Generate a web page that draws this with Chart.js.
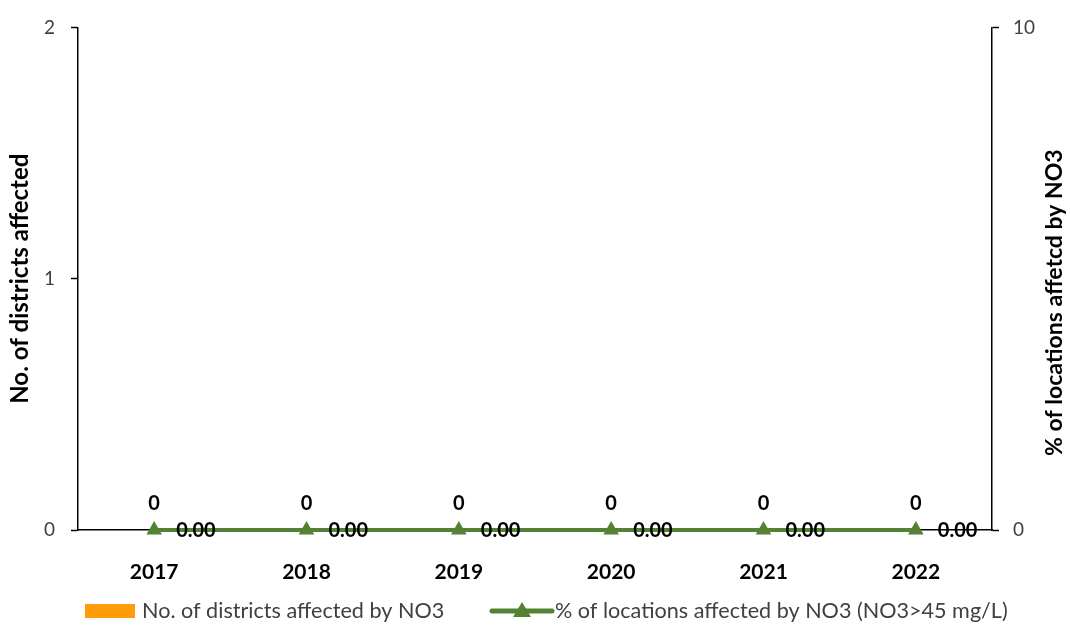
<!DOCTYPE html>
<html>
<head>
<meta charset="utf-8">
<script src="https://cdn.jsdelivr.net/npm/chart.js@4.4.1/dist/chart.umd.min.js"></script>
<style>
  html, body { margin: 0; padding: 0; background: #ffffff; }
  #wrap { width: 1070px; height: 630px; position: relative; }
</style>
</head>
<body>
<div id="wrap"><canvas id="c" width="1070" height="630"></canvas></div>
<script>
// Nitrate (NO3) contamination summary by year
const years = ['2017', '2018', '2019', '2020', '2021', '2022'];
const districtsAffected = [0, 0, 0, 0, 0, 0];
const pctLocationsAffected = [0, 0, 0, 0, 0, 0];
const leftTicks = [0, 1, 2];
const rightTicks = [0, 10];

const districtLabel = 'No. of districts affected by NO3';
const pctLabel = '% of locations affected by NO3 (NO3>45 mg/L)';
const leftTitle = 'No. of districts affected';
const rightTitle = '% of locations affetcd by NO3';

const ORANGE = '#FF9C0A';
const GREEN = '#548235';
const FONT = 'Lato, "Open Sans", "Liberation Sans", sans-serif';

// Value labels: integer above each bar, two decimals to the right of each point
const valueLabels = {
  id: 'valueLabels',
  afterDatasetsDraw(chart) {
    const ctx = chart.ctx;
    ctx.save();
    ctx.fillStyle = '#000';
    ctx.font = 'bold 20px ' + FONT;
    ctx.textBaseline = 'middle';
    const barMeta = chart.getDatasetMeta(0);
    barMeta.data.forEach((el, i) => {
      ctx.textAlign = 'center';
      ctx.fillText(String(districtsAffected[i]), el.x, el.y - 26);
    });
    const lineMeta = chart.getDatasetMeta(1);
    lineMeta.data.forEach((el, i) => {
      ctx.textAlign = 'left';
      ctx.fillText(pctLocationsAffected[i].toFixed(2), el.x + 22, el.y + 1);
    });
    ctx.restore();
  }
};

// Both axis titles read bottom-to-top
const axisTitles = {
  id: 'axisTitles',
  afterDraw(chart) {
    const ctx = chart.ctx;
    const area = chart.chartArea;
    ctx.save();
    ctx.fillStyle = '#000';
    ctx.textAlign = 'center';
    ctx.textBaseline = 'middle';
    ctx.font = 'bold 24px ' + FONT;
    ctx.translate(20, (area.top + area.bottom) / 2);
    ctx.rotate(-Math.PI / 2);
    ctx.fillText(leftTitle, 0, 0);
    ctx.restore();
    ctx.save();
    ctx.fillStyle = '#000';
    ctx.textAlign = 'center';
    ctx.textBaseline = 'middle';
    ctx.font = 'bold 23px ' + FONT;
    ctx.translate(1055, (area.top + area.bottom) / 2 + 24);
    ctx.rotate(-Math.PI / 2);
    ctx.fillText(rightTitle, 0, 0);
    ctx.restore();
  }
};

// Legend row under the plot
const bottomLegend = {
  id: 'bottomLegend',
  afterDraw(chart) {
    const ctx = chart.ctx;
    const y = 611;
    ctx.save();
    ctx.font = '21.6px ' + FONT;
    ctx.textBaseline = 'middle';
    // bar entry
    ctx.fillStyle = ORANGE;
    ctx.fillRect(85, y - 7, 50, 14);
    ctx.fillStyle = '#404040';
    ctx.textAlign = 'left';
    ctx.fillText(districtLabel, 142, y);
    // line entry
    ctx.strokeStyle = GREEN;
    ctx.lineWidth = 5;
    ctx.lineCap = 'round';
    ctx.beginPath();
    ctx.moveTo(492, y);
    ctx.lineTo(552, y);
    ctx.stroke();
    ctx.fillStyle = GREEN;
    ctx.beginPath();
    ctx.moveTo(522, y - 9);
    ctx.lineTo(531, y + 6);
    ctx.lineTo(513, y + 6);
    ctx.closePath();
    ctx.fill();
    ctx.fillStyle = '#404040';
    ctx.fillText(pctLabel, 555, y);
    ctx.restore();
  }
};

new Chart(document.getElementById('c'), {
  data: {
    labels: years,
    datasets: [
      {
        type: 'bar',
        label: districtLabel,
        data: districtsAffected,
        backgroundColor: ORANGE,
        yAxisID: 'y',
        order: 2
      },
      {
        type: 'line',
        label: pctLabel,
        data: pctLocationsAffected,
        borderColor: GREEN,
        backgroundColor: GREEN,
        borderWidth: 4,
        pointStyle: 'triangle',
        pointRadius: 9,
        pointHoverRadius: 9,
        pointBackgroundColor: GREEN,
        pointBorderColor: GREEN,
        pointBorderWidth: 0,
        yAxisID: 'y1',
        clip: false,
        order: 1
      }
    ]
  },
  plugins: [valueLabels, axisTitles, bottomLegend],
  options: {
    responsive: false,
    animation: false,
    events: [],
    layout: { padding: { top: 17, bottom: 48, left: 0, right: 0 } },
    plugins: {
      legend: { display: false },
      tooltip: { enabled: false }
    },
    scales: {
      x: {
        offset: true,
        grid: { display: false },
        border: { display: true, color: '#000', width: 1.5 },
        ticks: {
          color: '#000',
          padding: 22,
          font: { family: FONT, size: 21, weight: 'bold' }
        },
        afterFit(scale) { scale.height = 52; }
      },
      y: {
        position: 'left',
        min: 0,
        max: 2,
        afterBuildTicks(scale) { scale.ticks = leftTicks.map(v => ({ value: v })); },
        grid: { drawOnChartArea: false, tickLength: 7, color: '#000', tickColor: '#000', tickWidth: 1.5 },
        border: { display: true, color: '#000', width: 1.5 },
        ticks: {
          color: '#404040',
          padding: 16,
          font: { family: FONT, size: 19 }
        },
        afterFit(scale) { scale.width = 78; }
      },
      y1: {
        position: 'right',
        min: 0,
        max: 10,
        afterBuildTicks(scale) { scale.ticks = rightTicks.map(v => ({ value: v })); },
        grid: { drawOnChartArea: false, tickLength: 7, color: '#000', tickColor: '#000', tickWidth: 1.5 },
        border: { display: true, color: '#000', width: 1.5 },
        ticks: {
          color: '#404040',
          padding: 14,
          font: { family: FONT, size: 19 }
        },
        afterFit(scale) { scale.width = 78; }
      }
    }
  }
});
</script>
</body>
</html>
